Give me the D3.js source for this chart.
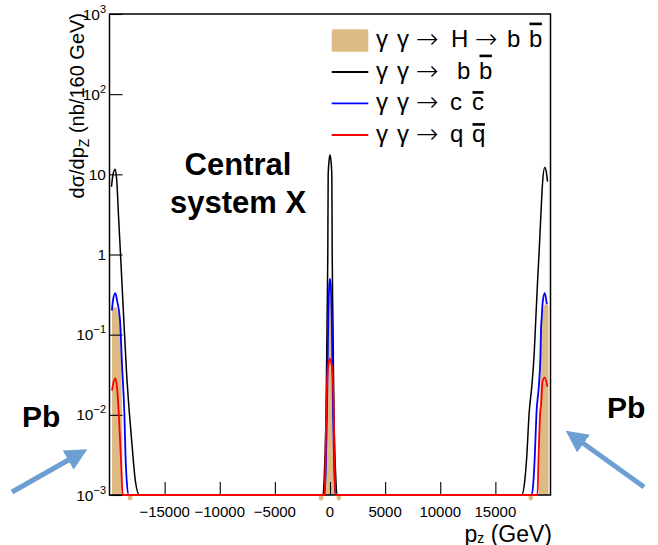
<!DOCTYPE html>
<html><head><meta charset="utf-8">
<script src="https://cdn.jsdelivr.net/npm/d3@7"></script>
<style>
body{margin:0;background:#fff;}
svg{display:block;}
text{font-family:"Liberation Sans",Arial,Helvetica,sans-serif;fill:#000;}
</style>
</head><body>
<svg id="c" width="658" height="545"></svg>
<script>
// ---------------- data ----------------
const yTickExponents = [-3, -2, -1, 0, 1, 2, 3];
const xTickLabels = [-15000, -10000, -5000, 0, 5000, 10000, 15000];
const xMinorStep = 1000;

// gamma gamma -> H -> b bbar  (filled)
const hbb = [
  [-19773,0.21],[-19590,0.22],[-19410,0.22],[-19255,0.20],[-19137,0.18],[-19046,0.14],[-18955,0.05],[-18864,0.01],[-18800,0.001],
  [-500,0.001],[-435,0.002],[-320,0.01],[-210,0.05],[-110,0.25],[0,0.30],[110,0.25],[210,0.05],[320,0.01],[435,0.002],[500,0.001],
  [18973,0.001],[19046,0.01],[19137,0.07],[19228,0.15],[19364,0.21],[19545,0.24],[19727,0.24],[19818,0.23]
];
// gamma gamma -> b bbar (black)
const bb = [
  [-19820,7.0],[-19680,10.0],[-19480,11.6],[-19345,8.5],[-19180,3.0],[-19000,1.0],[-18820,0.32],[-18655,0.114],[-18455,0.034],[-18200,0.0106],[-17955,0.0042],[-17655,0.0015],[-17290,0.001],
  [-635,0.001],[-500,0.002],[-355,0.0116],[-265,0.15],[-200,1.0],[-165,10],[-80,15],[0,17.4],[80,15],[165,10],[200,1.0],[265,0.15],[355,0.0116],[500,0.002],[635,0.001],
  [17390,0.001],[17665,0.0015],[17845,0.003],[18065,0.0106],[18300,0.0224],[18520,0.058],[18640,0.13],[18820,0.44],[18975,1.13],[19120,2.95],[19275,7.7],[19480,12.2],[19630,10.5],[19727,8.1]
];
// gamma gamma -> c cbar (blue)
const cc = [
  [-19780,0.20],[-19680,0.27],[-19470,0.33],[-19300,0.26],[-19046,0.152],[-18864,0.042],[-18655,0.0106],[-18545,0.003],[-18437,0.0015],[-18256,0.001],
  [-500,0.001],[-390,0.002],[-280,0.01],[-210,0.05],[-145,0.2],[-80,0.38],[0,0.5],[80,0.38],[145,0.2],[210,0.05],[280,0.01],[390,0.002],[500,0.001],
  [18300,0.001],[18455,0.0015],[18573,0.003],[18728,0.0106],[18937,0.0224],[19091,0.058],[19137,0.114],[19209,0.167],[19300,0.26],[19482,0.33],[19663,0.24]
];
// gamma gamma -> q qbar (red)
const qq = [
  [-19773,0.02],[-19682,0.024],[-19472,0.0285],[-19318,0.022],[-19163,0.0106],[-18955,0.0027],[-18801,0.001],
  [-480,0.001],[-430,0.002],[-335,0.0116],[-210,0.036],[-110,0.045],[0,0.05],[110,0.045],[210,0.036],[335,0.0116],[430,0.002],[480,0.001],
  [18819,0.001],[18910,0.0027],[19064,0.0106],[19155,0.0139],[19273,0.026],[19482,0.0292],[19727,0.0224]
];
// small dips of the smoothed fill below the axis
const hbbUndershootPz = [-18140, -800, 800, 18210];

const legendRows = [
  {kind:"fill", color:"#deba84", parts:["H","\u2192","b"], bar:"b"},
  {kind:"line", color:"#000000", parts:["b"], bar:"b"},
  {kind:"line", color:"#0000ff", parts:["c"], bar:"c"},
  {kind:"line", color:"#ff0000", parts:["q"], bar:"q"}
];

// ---------------- layout ----------------
const svg = d3.select("#c");
const L = 109.5, R = 550.5, T = 14, B = 495;
const x = d3.scaleLinear().domain([-20000, 20000]).range([L, R]);
const y = d3.scaleLog().domain([1e-3, 1e3]).range([B, T]).clamp(true);
const TAN = "#deba84";

const px = d => x(d[0]), py = d => y(d[1]);

// filled H->bb
svg.append("path")
  .attr("d", d3.area().x(px).y0(y(1e-3)).y1(py).curve(d3.curveMonotoneX)(hbb))
  .attr("fill", TAN).attr("stroke", "none");
svg.selectAll("ellipse.us").data(hbbUndershootPz).enter().append("ellipse")
  .attr("cx", d => x(d)).attr("cy", B + 2.5).attr("rx", 2.3).attr("ry", 3)
  .attr("fill", TAN);

// axes
const gy = svg.append("g").attr("transform", `translate(${L},0)`);
const yMaj = yTickExponents.map(e => Math.pow(10, e));
const yMin = [];
for (let e = -3; e < 3; e++) for (let k = 2; k <= 9; k++) yMin.push(k * Math.pow(10, e));
gy.call(d3.axisRight(y).tickValues(yMin).tickSize(6.5).tickFormat(""));
gy.call(d3.axisRight(y).tickValues(yMaj).tickSize(13).tickFormat(""));

const gx = svg.append("g").attr("transform", `translate(0,${B})`);
const xMin = d3.range(-19000, 20000, xMinorStep).filter(v => v % 5000 !== 0);
gx.call(d3.axisTop(x).tickValues(xMin).tickSize(6.5).tickFormat(""));
gx.call(d3.axisTop(x).tickValues(xTickLabels).tickSize(13).tickFormat(""));
svg.selectAll(".domain").remove();
svg.selectAll(".tick line").attr("stroke", "#000").attr("stroke-width", 1.1);

// frame
svg.append("rect").attr("x", L).attr("y", T).attr("width", R - L).attr("height", B - T)
  .attr("fill", "none").attr("stroke", "#000").attr("stroke-width", 1.5);

// lines
const line = d3.line().x(px).y(py).curve(d3.curveMonotoneX);
[[bb, "#000000", 1.5], [cc, "#0000ff", 1.8], [qq, "#ff0000", 1.8]].forEach(([d, c, w]) => {
  svg.append("path").attr("d", line(d)).attr("fill", "none").attr("stroke", c).attr("stroke-width", w);
});

// x tick labels
svg.selectAll("text.xl").data(xTickLabels).enter().append("text")
  .attr("x", d => x(d)).attr("y", 517).attr("text-anchor", "middle").attr("font-size", 15)
  .text(d => (d < 0 ? "\u2212" + Math.abs(d) : String(d)));

// y tick labels
yTickExponents.forEach(e => {
  const t = svg.append("text").attr("x", 106).attr("y", y(Math.pow(10, e)) + 5.5)
    .attr("text-anchor", "end").attr("font-size", 15.5);
  if (e === 0) t.text("1");
  else if (e === 1) t.text("10");
  else {
    t.append("tspan").text("10");
    t.append("tspan").attr("dy", -7).attr("font-size", 11).text(e < 0 ? "\u2212" + Math.abs(e) : String(e));
  }
});

// axis titles
const xt = svg.append("text").attr("x", 552).attr("y", 541.5).attr("text-anchor", "end").attr("font-size", 23);
xt.append("tspan").text("p");
xt.append("tspan").attr("dy", 1.5).attr("font-size", 14).text("z");
xt.append("tspan").attr("dy", -1.5).text(" (GeV)");

const yt = svg.append("text").attr("transform", "translate(84,13) rotate(-90)")
  .attr("text-anchor", "end").attr("font-size", 20);
yt.append("tspan").text("d\u03c3/dp");
yt.append("tspan").attr("dy", 5).attr("font-size", 14).text("Z");
yt.append("tspan").attr("dy", -5).text(" (nb/160 GeV)");

// legend
const rowBase = [47, 79, 110, 142];
const rowSym = [40, 72, 103.3, 135];
const partX = [[451, 476, 507], [457], [450], [450]];
const barX = [529, 479, 472, 472];
const barLift = {b: 22, c: 16.5, q: 16.5};
const fs = 24;
function legendText(str, xx, yy) {
  const arrow = str === "\u2192";
  return svg.append("text").attr("x", arrow ? xx - 1 : xx).attr("y", arrow ? yy + 1 : yy)
    .attr("font-size", arrow ? 27 : fs)
    .style("font-family", arrow ? "'DejaVu Sans'" : null)
    .style("font-weight", arrow ? 300 : null)
    .text(str);
}
legendRows.forEach((r, i) => {
  if (r.kind === "fill") {
    svg.append("rect").attr("x", 331.7).attr("y", 29.3).attr("width", 36.6).attr("height", 22.4)
      .attr("rx", 1.5).attr("fill", r.color);
  } else {
    svg.append("line").attr("x1", 331.7).attr("x2", 368.3).attr("y1", rowSym[i]).attr("y2", rowSym[i])
      .attr("stroke", r.color).attr("stroke-width", 1.8);
  }
  legendText("\u03b3", 376, rowBase[i]);
  legendText("\u03b3", 397, rowBase[i]);
  legendText("\u2192", 417, rowBase[i]);
  r.parts.forEach((p, j) => legendText(p, partX[i][j], rowBase[i]));
  const bt = legendText(r.bar, barX[i], rowBase[i]);
  const w = bt.node().getComputedTextLength();
  svg.append("rect").attr("x", barX[i] + 0.5).attr("y", rowBase[i] - barLift[r.bar] - 2.4)
    .attr("width", w - 1).attr("height", 2.6).attr("fill", "#000");
});

// annotations
svg.append("text").attr("x", 238).attr("y", 175).attr("text-anchor", "middle")
  .attr("font-size", 31).attr("font-weight", "bold").text("Central");
svg.append("text").attr("x", 238).attr("y", 213).attr("text-anchor", "middle")
  .attr("font-size", 31).attr("font-weight", "bold").text("system X");
svg.append("text").attr("x", 22).attr("y", 427).attr("font-size", 30).attr("font-weight", "bold").text("Pb");
svg.append("text").attr("x", 607).attr("y", 418).attr("font-size", 30).attr("font-weight", "bold").text("Pb");

const ARROW = "#6e9fd3";
svg.append("defs").append("marker").attr("id", "ah").attr("viewBox", "0 0 10 10")
  .attr("refX", 2).attr("refY", 5).attr("markerWidth", 4.4).attr("markerHeight", 4.4)
  .attr("orient", "auto").attr("markerUnits", "strokeWidth")
  .append("path").attr("d", "M0,0 L10,5 L0,10 z").attr("fill", ARROW);
svg.append("line").attr("x1", 12).attr("y1", 492).attr("x2", 72).attr("y2", 458)
  .attr("stroke", ARROW).attr("stroke-width", 5).attr("marker-end", "url(#ah)");
svg.append("line").attr("x1", 644).attr("y1", 487).attr("x2", 580).attr("y2", 441)
  .attr("stroke", ARROW).attr("stroke-width", 5).attr("marker-end", "url(#ah)");
</script>
</body></html>
